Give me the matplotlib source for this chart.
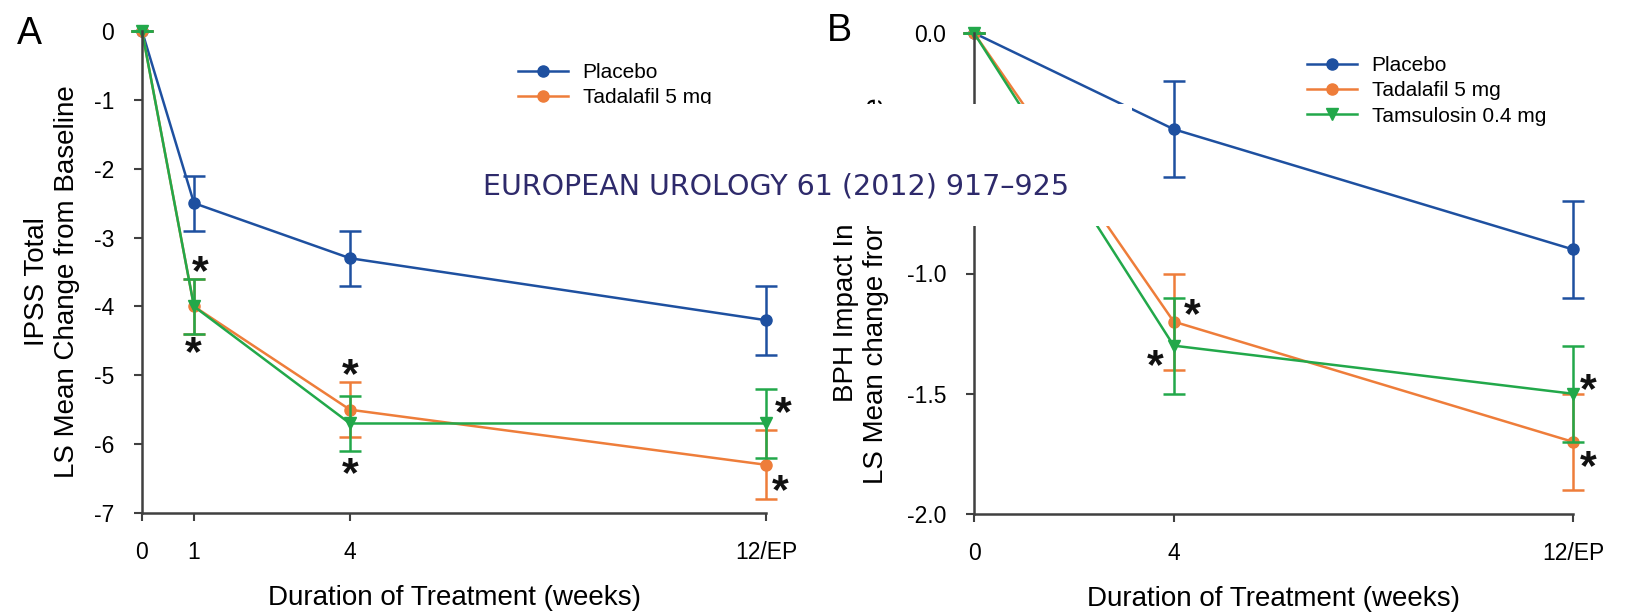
import matplotlib

matplotlib.use("Agg")
import matplotlib.pyplot as plt
from matplotlib.patches import Rectangle

plt.rcParams["font.family"] = ["Liberation Sans", "DejaVu Sans"]
plt.rcParams["axes.unicode_minus"] = False

# panel A: IPSS total
weeks_a = [0, 1, 4, 12]
placebo_a = [0, -2.5, -3.3, -4.2]
placebo_a_err = [0, 0.4, 0.4, 0.5]
tadalafil_a = [0, -4.0, -5.5, -6.3]
tadalafil_a_err = [0, 0.4, 0.4, 0.5]
tamsulosin_a = [0, -4.0, -5.7, -5.7]
tamsulosin_a_err = [0, 0.4, 0.4, 0.5]
stars_a_x = [1.12, 0.99, 4.0, 4.0, 12.33, 12.27]
stars_a_y = [-3.45, -4.62, -4.95, -6.38, -5.5, -6.63]
xticks_a = [0, 1, 4, 12]
xticklabels_a = ["0", "1", "4", "12/EP"]

# panel B: BPH impact index
weeks_b = [0, 4, 12]
placebo_b = [0, -0.4, -0.9]
placebo_b_err = [0, 0.2, 0.2]
tadalafil_b = [0, -1.2, -1.7]
tadalafil_b_err = [0, 0.2, 0.2]
tamsulosin_b = [0, -1.3, -1.5]
tamsulosin_b_err = [0, 0.2, 0.2]
stars_b_x = [4.38, 3.64, 12.3, 12.3]
stars_b_y = [-1.16, -1.37, -1.47, -1.79]
xticks_b = [0, 4, 12]
xticklabels_b = ["0", "4", "12/EP"]

labels = ["Placebo", "Tadalafil 5 mg", "Tamsulosin 0.4 mg"]
colors = ["#1E50A0", "#EE7D3A", "#22A84A"]
markers = ["o", "o", "v"]

W, H = 1628, 612
fig = plt.figure(figsize=(W / 100, H / 100), dpi=100)


def px_axes(left, top, right, bottom):
    return fig.add_axes([left / W, 1 - bottom / H, (right - left) / W, (bottom - top) / H])


def draw_panel(ax, x, series, errs, stars_x, stars_y):
    for y, e, lab, col, mk in zip(series, errs, labels, colors, markers):
        ax.errorbar(x, y, yerr=e, fmt="none", ecolor=col, elinewidth=1.8,
                    capsize=8, capthick=1.8, clip_on=False)
        ax.plot(x, y, color=col, marker=mk, markersize=8, linewidth=1.8,
                label=lab, clip_on=False)
    for sx, sy in zip(stars_x, stars_y):
        ax.text(sx, sy, "*", fontsize=31, fontweight="bold", color="#111111",
                ha="center", va="center_baseline")
    for side in ["top", "right"]:
        ax.spines[side].set_visible(False)
    for side in ["left", "bottom"]:
        ax.spines[side].set_color("#404040")
        ax.spines[side].set_linewidth(1.8)
    ax.tick_params(direction="out", length=6, width=1.5, color="#404040",
                   labelsize=16.5, pad=14)
    ax.set_xlabel("Duration of Treatment (weeks)", fontsize=20, labelpad=15)


ax_a = px_axes(142, 31, 766, 513)
draw_panel(ax_a, weeks_a, [placebo_a, tadalafil_a, tamsulosin_a],
           [placebo_a_err, tadalafil_a_err, tamsulosin_a_err], stars_a_x, stars_a_y)
ax_a.set_xlim(0, 12)
ax_a.set_ylim(-7, 0)
ax_a.set_xticks(xticks_a)
ax_a.set_xticklabels(xticklabels_a)
ax_a.set_yticks(range(-7, 1))
ax_a.set_ylabel("IPSS Total\nLS Mean Change from Baseline", fontsize=20)
ax_a.yaxis.set_label_coords(-0.1, 0.48)
ax_a.legend(loc="upper left", bbox_to_anchor=(0.6026, 0.934), frameon=False,
            fontsize=15, handlelength=2.4, handletextpad=0.7, labelspacing=0.3,
            borderpad=0, borderaxespad=0, numpoints=1)

ax_b = px_axes(974, 33, 1573, 514)
draw_panel(ax_b, weeks_b, [placebo_b, tadalafil_b, tamsulosin_b],
           [placebo_b_err, tadalafil_b_err, tamsulosin_b_err], stars_b_x, stars_b_y)
ax_b.set_xlim(0, 12)
ax_b.set_ylim(-2, 0)
ax_b.set_xticks(xticks_b)
ax_b.set_xticklabels(xticklabels_b)
ax_b.set_yticks([0, -0.5, -1.0, -1.5, -2.0])
ax_b.yaxis.set_major_formatter(matplotlib.ticker.FormatStrFormatter("%.1f"))
ax_b.set_ylabel("BPH Impact Index\nLS Mean change from Baseline", fontsize=20)
ax_b.yaxis.set_label_coords(-0.142, 0.464)
ax_b.legend(loc="upper left", bbox_to_anchor=(0.556, 0.952), frameon=False,
            fontsize=15, handlelength=2.4, handletextpad=0.7, labelspacing=0.3,
            borderpad=0, borderaxespad=0, numpoints=1)

fig.text(29 / W, 1 - 34 / H, "A", fontsize=27, ha="center", va="center")
fig.text(839 / W, 1 - 31 / H, "B", fontsize=27, ha="center", va="center")

# journal banner pasted over the figure
fig.patches.append(Rectangle((407 / W, 1 - 226 / H), (1132 - 407) / W, 122 / H,
                             transform=fig.transFigure, facecolor="white",
                             edgecolor="none", zorder=10))
fig.text(776 / W, 1 - 186 / H, "EUROPEAN UROLOGY 61 (2012) 917\u2013925",
         fontsize=20.5, color="#2E2A6B", family=["DejaVu Sans"],
         ha="center", va="center", zorder=11)

fig.savefig("out.png", dpi=100)
